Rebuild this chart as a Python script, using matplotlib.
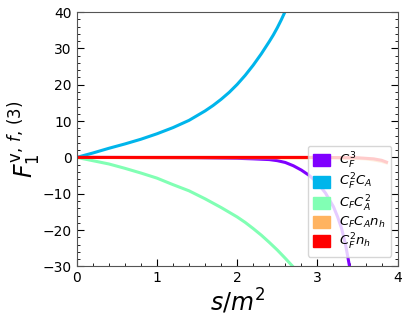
import numpy as np
import matplotlib
matplotlib.use("Agg")
import matplotlib.pyplot as plt
from matplotlib.patches import Patch
from matplotlib.ticker import AutoMinorLocator

# values
s_cfca = [0, 0.2, 0.4, 0.6, 0.8, 1.0, 1.2, 1.4, 1.6, 1.7, 1.8, 1.9, 2.0, 2.1, 2.2, 2.3, 2.4, 2.45, 2.5, 2.55, 2.6, 2.65]
f_cfca = [0, 1.2, 2.5, 3.7, 5.0, 6.5, 8.2, 10.2, 12.8, 14.3, 16.0, 17.9, 20.1, 22.6, 25.4, 28.5, 31.9, 33.7, 35.7, 37.9, 40.3, 43.0]

s_cfca2 = [0, 0.2, 0.4, 0.6, 0.8, 1.0, 1.2, 1.4, 1.6, 1.8, 2.0, 2.1, 2.2, 2.3, 2.4, 2.5, 2.6, 2.7, 2.75]
f_cfca2 = [0, -0.9, -1.8, -3.0, -4.3, -5.7, -7.5, -9.2, -11.4, -13.8, -16.4, -17.9, -19.6, -21.4, -23.4, -25.5, -27.8, -30.2, -31.5]

s_cf3 = [0, 0.5, 1.0, 1.5, 2.0, 2.2, 2.4, 2.5, 2.6, 2.7, 2.8, 2.9, 3.0, 3.1, 3.2, 3.25, 3.3, 3.35, 3.4, 3.45]
f_cf3 = [0, -0.02, -0.05, -0.1, -0.25, -0.4, -0.6, -0.9, -1.4, -2.3, -3.5, -5.0, -7.0, -9.8, -13.6, -16.3, -19.5, -24.0, -30.0, -36.0]

s_cfcanh = [0, 1, 2, 3, 3.4, 3.6, 3.7, 3.8, 3.86]
f_cfcanh = [0, -0.1, -0.1, -0.1, -0.2, -0.4, -0.7, -1.1, -1.5]

s_cf2nh = [0, 1, 2, 3, 3.5, 3.7, 3.8, 3.86]
f_cf2nh = [0, 0, 0, 0, -0.1, -0.4, -0.8, -1.3]

labels = [r"$C_F^3$", r"$C_F^2C_A$", r"$C_FC_A^2$", r"$C_FC_An_h$", r"$C_F^2n_h$"]
colors = plt.cm.rainbow(np.linspace(0, 1, 5))

fig, ax = plt.subplots(figsize=(4.1, 3.19), dpi=100)
fig.subplots_adjust(left=0.187, right=0.97, top=0.962, bottom=0.165)

lw = 2.2
ax.plot(s_cf3, f_cf3, color=colors[0], lw=lw)
ax.plot(s_cfca, f_cfca, color=colors[1], lw=lw)
ax.plot(s_cfca2, f_cfca2, color=colors[2], lw=lw)
ax.plot(s_cfcanh, f_cfcanh, color=colors[3], lw=lw)
ax.plot(s_cf2nh, f_cf2nh, color=colors[4], lw=lw)

ax.set_xlim(0, 4)
ax.set_ylim(-30, 40)
ax.set_xticks([0, 1, 2, 3, 4])
ax.set_yticks([-30, -20, -10, 0, 10, 20, 30, 40])
ax.xaxis.set_minor_locator(AutoMinorLocator(5))
ax.yaxis.set_minor_locator(AutoMinorLocator(5))
ax.tick_params(which="both", direction="in", right=True, labelsize=10)
ax.tick_params(which="major", length=5)
ax.tick_params(which="minor", length=2.5)
for sp in ax.spines.values():
    sp.set_color("#555555")

ax.set_xlabel(r"$s/m^2$", fontsize=17, labelpad=1)
ax.set_ylabel(r"$F_1^{\mathrm{v},\,f,\,(3)}$", fontsize=17, labelpad=0)

handles = [Patch(color=c) for c in colors]
ax.legend(handles, labels, loc="lower right", bbox_to_anchor=(0.98, 0.037),
          borderaxespad=0, fontsize=9.5, handlelength=1.3, handleheight=1.0,
          labelspacing=0.1, handletextpad=0.7, borderpad=0.4)

fig.savefig("out.png", dpi=100)
